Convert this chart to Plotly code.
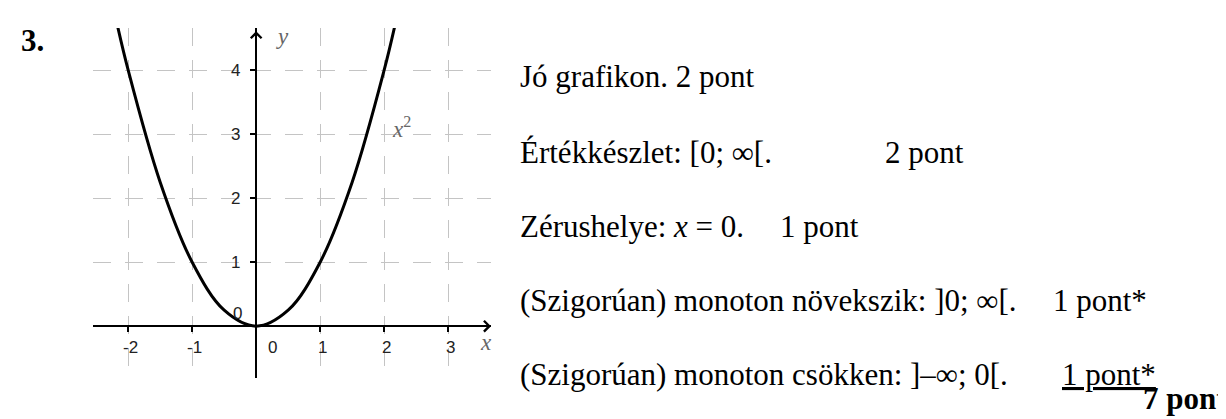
import plotly.graph_objects as go

# 抛物线 y = x^2 上读出的点
curve_x = [-2.2, -2.0, -1.5, -1.0, -0.5, 0.0, 0.5, 1.0, 1.5, 2.0, 2.2]
curve_y = [4.84, 4.0, 2.25, 1.0, 0.25, 0.0, 0.25, 1.0, 2.25, 4.0, 4.84]

x_ticks = [-2, -1, 0, 1, 2, 3]
y_ticks = [0, 1, 2, 3, 4]

# 右边的文字
sorok = [
    'Jó grafikon. 2 pont',
    'Értékkészlet: [0; ∞[.',
    'Zérushelye: <i>x</i> = 0.',
    '(Szigorúan) monoton növekszik: ]0; ∞[.',
    '(Szigorúan) monoton csökken: ]–∞; 0[.',
]
pontok = ['', '2 pont', '1 pont', '1 pont*', '<u>1 pont*</u>']
pont_x = [0, 875, 770, 1043, 1052]
sor_y = [69, 144, 218, 292, 366]
osszesen = '<b>7 pont</b>'

W, H = 1226, 419
left, right, top, bottom = 85, 483, 20, 370
x_range = [-2.55, 3.67]
y_range = [-0.81, 4.66]

fig = go.Figure()
fig.add_trace(go.Scatter(
    x=curve_x, y=curve_y, mode='lines',
    line=dict(color='black', width=3, shape='spline', smoothing=1.0),
    hoverinfo='skip', showlegend=False,
))

pos_x0 = (left + (0 - x_range[0]) / (x_range[1] - x_range[0]) * (right - left)) / W
pos_y0 = 1 - (bottom - (0 - y_range[0]) / (y_range[1] - y_range[0]) * (bottom - top)) / H

grid = dict(showgrid=True, gridcolor='#c4c4c4', gridwidth=1.3, griddash='18px,14px',
            zeroline=False, showline=True, linecolor='black', linewidth=1.6,
            ticks='outside', ticklen=5, tickwidth=1.6, tickcolor='black',
            showticklabels=False, dtick=1, tick0=0, fixedrange=True)

fig.update_layout(
    width=W, height=H,
    margin=dict(l=0, r=0, t=0, b=0),
    paper_bgcolor='white', plot_bgcolor='white',
    xaxis=dict(range=x_range, domain=[left / W, right / W],
               anchor='free', position=pos_y0, **grid),
    yaxis=dict(range=y_range, domain=[1 - bottom / H, 1 - top / H],
               anchor='free', position=pos_x0, **grid),
)

ann = []
tick_font = dict(family='Liberation Sans, Arial', size=17, color='#222')
for v in x_ticks:
    ann.append(dict(x=v, y=0, xref='x', yref='y', text=str(v), showarrow=False,
                    xanchor='center', yanchor='middle',
                    xshift=16 if v == 0 else 2, yshift=-21, font=tick_font))
for v in y_ticks:
    ann.append(dict(x=0, y=v, xref='x', yref='y', text=str(v), showarrow=False,
                    xanchor='center', yanchor='middle',
                    xshift=-19 if v == 0 else -21, yshift=13 if v == 0 else 0,
                    font=tick_font))

# 坐标轴箭头
ann.append(dict(x=x_range[1], y=0, ax=x_range[1] - 0.3, ay=0, xref='x', yref='y',
                axref='x', ayref='y', text='', showarrow=True, arrowhead=4,
                arrowsize=1.3, arrowwidth=1.6, arrowcolor='black', standoff=0))
ann.append(dict(x=0, y=4.61, ax=0, ay=4.3, xref='x', yref='y',
                axref='x', ayref='y', text='', showarrow=True, arrowhead=4,
                arrowsize=1.3, arrowwidth=1.6, arrowcolor='black', standoff=0))

label_font = dict(family='Liberation Serif, Times New Roman', size=23, color='#666')
ann.append(dict(x=274 / W, y=1 - 28 / H, xref='paper', yref='paper', text='<i>y</i>',
                xanchor='center', yanchor='middle', showarrow=False, font=label_font))
ann.append(dict(x=478 / W, y=1 - 334 / H, xref='paper', yref='paper', text='<i>x</i>',
                xanchor='center', yanchor='middle', showarrow=False, font=label_font))
ann.append(dict(x=382 / W, y=1 - 120 / H, xref='paper', yref='paper',
                text='<i>x</i><sup>2</sup>', xanchor='left', yanchor='middle',
                showarrow=False, font=label_font))

text_font = dict(family='Liberation Serif, Times New Roman', size=31, color='black')
ann.append(dict(x=11 / W, y=1 - 32 / H, xref='paper', yref='paper', text='<b>3.</b>',
                xanchor='left', yanchor='middle', showarrow=False, font=text_font))
for s, p, px, py in zip(sorok, pontok, pont_x, sor_y):
    ann.append(dict(x=510 / W, y=1 - py / H, xref='paper', yref='paper', text=s,
                    xanchor='left', yanchor='middle', showarrow=False, font=text_font))
    if p:
        ann.append(dict(x=px / W, y=1 - py / H, xref='paper', yref='paper', text=p,
                        xanchor='left', yanchor='middle', showarrow=False, font=text_font))
ann.append(dict(x=1221 / W, y=1 - 390 / H, xref='paper', yref='paper', text=osszesen,
                xanchor='right', yanchor='middle', showarrow=False, font=text_font))

fig.update_layout(annotations=ann)
fig.write_html('out.html')
